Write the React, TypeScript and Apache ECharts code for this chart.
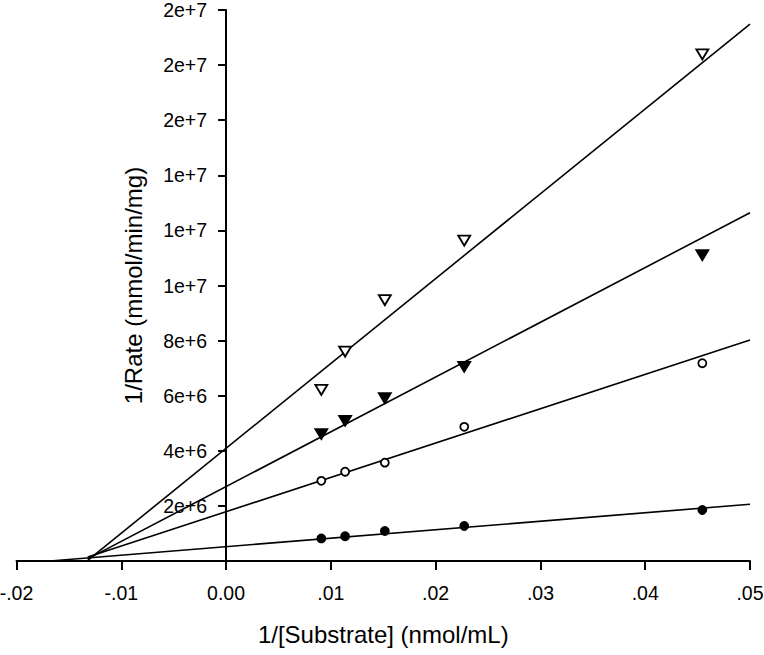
import React, { useEffect, useRef } from "react";
import * as echarts from "echarts";

// 1/[Substrate] values (nmol/mL)^-1
const xValues = [0.00909, 0.01136, 0.01515, 0.02273, 0.04545];

// 1/Rate observations for each series
const filledCircles = [0.82e6, 0.9e6, 1.09e6, 1.27e6, 1.85e6];
const openCircles = [2.91e6, 3.24e6, 3.57e6, 4.87e6, 7.18e6];
const filledTriangles = [4.61e6, 5.09e6, 5.91e6, 7.05e6, 11.1e6];
const openTriangles = [6.21e6, 7.6e6, 9.47e6, 11.63e6, 18.39e6];

// fitted lines: intercept, slope and start x for each series
const fitIntercepts = [0.52e6, 1.79e6, 2.7e6, 4.09e6];
const fitSlopes = [30.8e6, 124.6e6, 198.8e6, 308e6];
const lineStarts = [-0.0168, -0.0132, -0.0132, -0.0132];
const lineEnd = 0.05;

// tick labels
const xTickLabels = ["-.02", "-.01", "0.00", ".01", ".02", ".03", ".04", ".05"];
const yTickLabels = ["2e+6", "4e+6", "6e+6", "8e+6", "1e+7", "1e+7", "1e+7", "2e+7", "2e+7", "2e+7"];

const X_MIN = -0.02;
const X_MAX = 0.05;
const GRID_LEFT = 16.5;
const GRID_RIGHT = 14;
const WIDTH = 764;

const FONT = "Liberation Sans, Arial, sans-serif";

export default function App() {
  const ref = useRef<HTMLDivElement>(null);

  useEffect(() => {
    if (!ref.current) return;
    const chart = echarts.init(ref.current, undefined, { renderer: "svg" });

    // pixel offset of x = 0 from the grid's left edge, so that the y axis sits at x = 0
    const plotW = WIDTH - GRID_LEFT - GRID_RIGHT;
    const zeroOffset = ((0 - X_MIN) / (X_MAX - X_MIN)) * plotW;

    const groups = [
      { y: filledCircles, symbol: "circle", size: 8, fill: "#000", rotate: 0 },
      { y: openCircles, symbol: "circle", size: 8, fill: "#fff", rotate: 0 },
      { y: filledTriangles, symbol: "triangle", size: [12, 10], fill: "#000", rotate: 180 },
      { y: openTriangles, symbol: "triangle", size: [12, 10], fill: "#fff", rotate: 180 },
    ];

    const lineSeries = fitIntercepts.map((b, i) => ({
      type: "line",
      data: [
        [lineStarts[i], b + fitSlopes[i] * lineStarts[i]],
        [lineEnd, b + fitSlopes[i] * lineEnd],
      ],
      symbol: "none",
      lineStyle: { color: "#000", width: 1.6 },
      z: 2,
      silent: true,
    }));

    const scatterSeries = groups.map((g) => ({
      type: "scatter",
      data: xValues.map((x, j) => [x, g.y[j]]),
      symbol: g.symbol,
      symbolSize: g.size,
      symbolRotate: g.rotate,
      itemStyle: { color: g.fill, borderColor: "#000", borderWidth: 1.8, opacity: 1 },
      z: 3,
    }));

    chart.setOption({
      animation: false,
      backgroundColor: "#fff",
      grid: {
        left: GRID_LEFT,
        right: GRID_RIGHT,
        top: 10,
        bottom: 94,
        containLabel: false,
        outerBoundsMode: "none",
      },
      xAxis: {
        type: "value",
        min: X_MIN,
        max: X_MAX,
        interval: 0.01,
        name: "1/[Substrate] (nmol/mL)",
        nameLocation: "middle",
        nameGap: 61,
        nameTextStyle: { fontFamily: FONT, fontSize: 24, color: "#000" },
        axisLine: { show: true, onZero: false, lineStyle: { color: "#000", width: 2 } },
        axisTick: { show: true, inside: false, length: 9, lineStyle: { color: "#000", width: 2 } },
        axisLabel: {
          margin: 22,
          fontFamily: FONT,
          fontSize: 19.5,
          color: "#000",
          showMinLabel: true,
          showMaxLabel: true,
          hideOverlap: false,
          formatter: (v: number) => xTickLabels[Math.round((v - X_MIN) / 0.01)] ?? "",
        },
        splitLine: { show: false },
      },
      yAxis: {
        type: "value",
        min: 0,
        max: 2e7,
        interval: 2e6,
        position: "left",
        offset: -zeroOffset,
        name: "1/Rate (mmol/min/mg)",
        nameLocation: "middle",
        nameGap: 81,
        nameRotate: 90,
        nameTextStyle: { fontFamily: FONT, fontSize: 24, color: "#000" },
        axisLine: { show: true, onZero: false, lineStyle: { color: "#000", width: 2 } },
        axisTick: { show: true, inside: false, length: 8, lineStyle: { color: "#000", width: 2 } },
        axisLabel: {
          margin: 19,
          fontFamily: FONT,
          fontSize: 19.5,
          color: "#000",
          showMinLabel: false,
          hideOverlap: false,
          formatter: (v: number) => (v <= 0 ? "" : yTickLabels[Math.round(v / 2e6) - 1] ?? ""),
        },
        splitLine: { show: false },
      },
      series: [...lineSeries, ...scatterSeries],
    });

    return () => chart.dispose();
  }, []);

  return (
    <div
      ref={ref}
      style={{ position: "fixed", left: 0, top: 0, width: 764, height: 655, background: "#fff" }}
    />
  );
}
